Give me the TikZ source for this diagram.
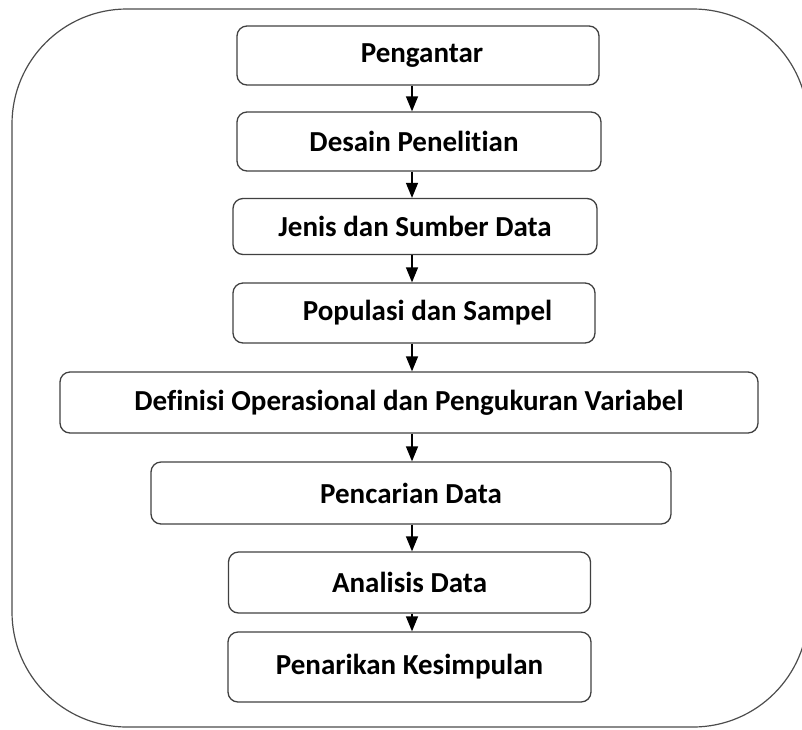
\documentclass[tikz,border=0pt]{standalone}
\usepackage{fontspec}
\setmainfont{Carlito}[Ligatures={NoCommon}]
\usetikzlibrary{arrows.meta}

\tikzset{
  stage/.style={draw=black!75, line width=1.3pt, rounded corners=10pt,
    font=\bfseries\fontsize{29}{34}\selectfont, inner sep=0pt},
  flow/.style={draw=black, line width=1.3pt, -{Triangle[length=15pt,width=12pt]}}
}

\begin{document}
\begin{tikzpicture}[x=1pt, y=-1pt]
    \useasboundingbox (0,0) rectangle (802,729);
    \clip (0,0) rectangle (802,729);

    % outer frame
    \draw[black!70, line width=1.2pt, rounded corners=115pt] (12,9) rectangle (808,727);

    % stages
    \node[stage, minimum width=362pt, minimum height=59pt] (pengantar) at (418,55.5) {\hspace*{8pt}Pengantar};
    \node[stage, minimum width=364pt, minimum height=59pt] (desain) at (419,141.5) {Desain Penelitian\hspace*{10pt}};
    \node[stage, minimum width=364pt, minimum height=56pt] (jenis) at (415,226.5) {Jenis dan Sumber Data};
    \node[stage, minimum width=362pt, minimum height=60pt] (populasi) at (414,313) {\hspace*{27pt}Populasi dan Sampel};
    \node[stage, minimum width=698pt, minimum height=61pt] (definisi) at (409,402.5) {Definisi Operasional dan Pengukuran Variabel};
    \node[stage, minimum width=520pt, minimum height=62pt] (pencarian) at (411,493) {Pencarian Data};
    \node[stage, minimum width=362pt, minimum height=61pt] (analisis) at (409.5,582.5) {Analisis Data};
    \node[stage, minimum width=363pt, minimum height=70pt] (penarikan) at (409.5,667) {Penarikan Kesimpulan};

    % arrows
    \coordinate (axis) at (412,0);
    \draw[flow] (pengantar.south -| axis) -- (desain.north -| axis);
    \draw[flow] (desain.south -| axis) -- (jenis.north -| axis);
    \draw[flow] (jenis.south -| axis) -- (populasi.north -| axis);
    \draw[flow] (populasi.south -| axis) -- (definisi.north -| axis);
    \draw[flow] (definisi.south -| axis) -- (pencarian.north -| axis);
    \draw[flow] (pencarian.south -| axis) -- (analisis.north -| axis);
    \draw[flow] (analisis.south -| axis) -- (penarikan.north -| axis);
\end{tikzpicture}
\end{document}
